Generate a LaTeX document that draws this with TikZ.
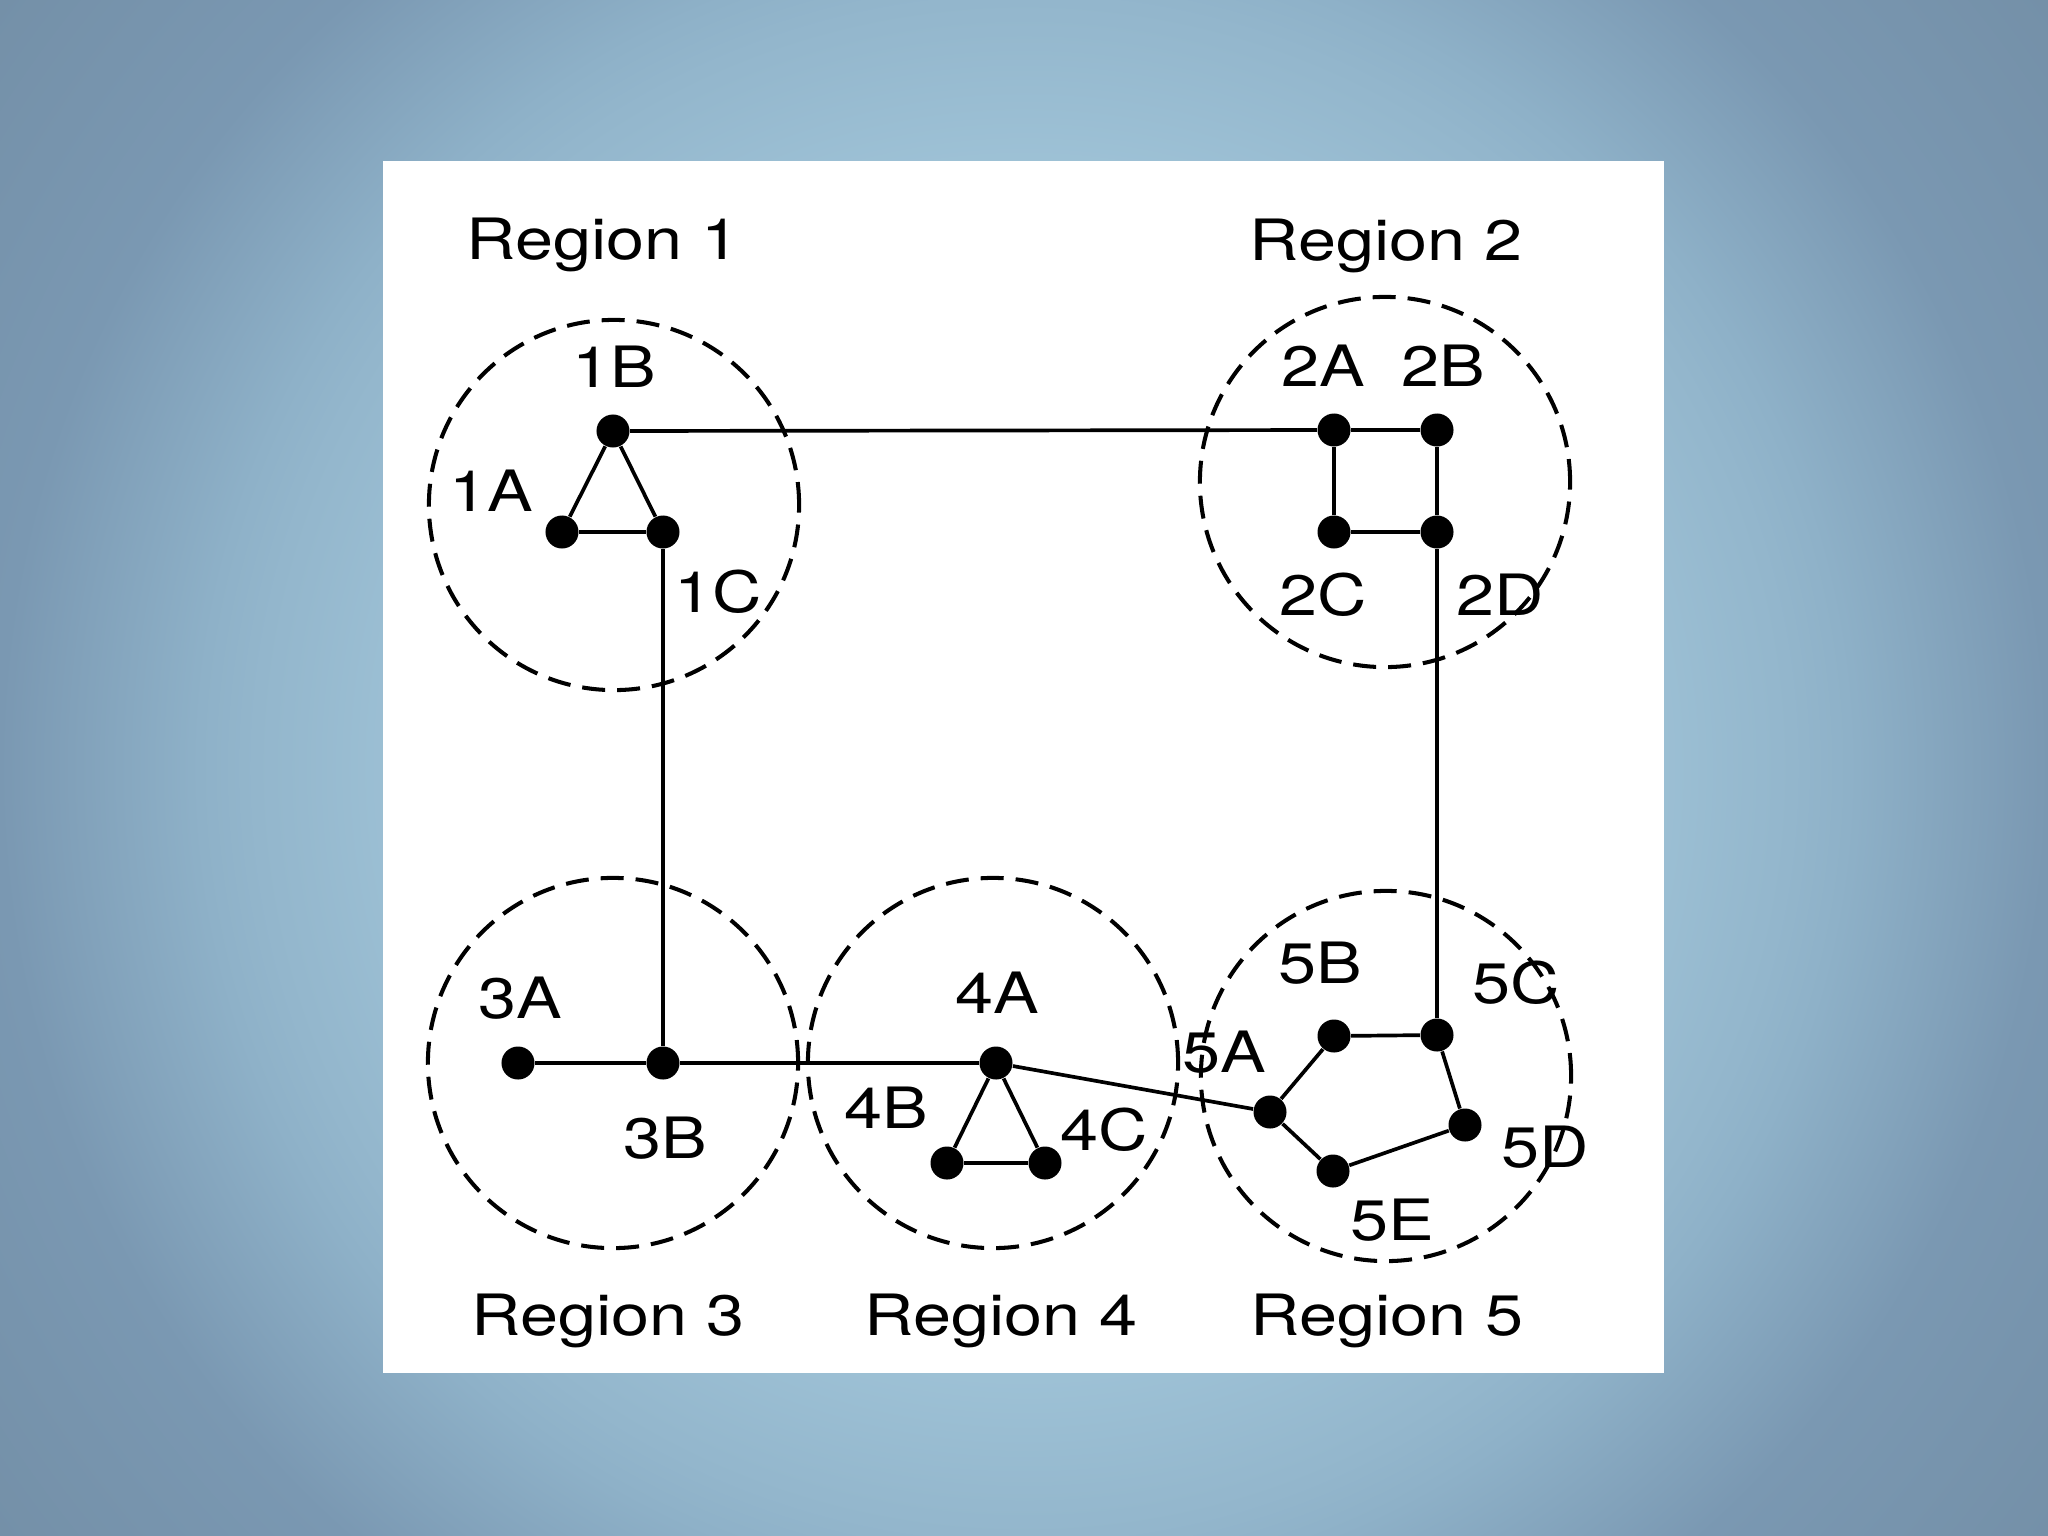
\documentclass[tikz,border=0pt]{standalone}
\usepackage{fontspec}
\setmainfont{TeX Gyre Heros}[FakeStretch=1.2]
\definecolor{bgA}{RGB}{172,210,228}
\definecolor{bgB}{RGB}{160,196,216}
\definecolor{bgC}{RGB}{147,182,204}
\definecolor{bgD}{RGB}{142,177,200}
\definecolor{bgE}{RGB}{122,152,178}
\definecolor{bgF}{RGB}{116,144,168}
\pgfdeclareradialshading{bgshade}{\pgfpoint{0bp}{0bp}}{%
  color(0bp)=(bgA); color(160bp)=(bgB); color(217.7bp)=(bgC); color(233.6bp)=(bgD);
  color(290.3bp)=(bgE); color(362.9bp)=(bgF); color(372bp)=(bgF)}
\begin{document}
\begin{tikzpicture}[x=0.01cm,y=-0.01cm,
  dotnode/.style={circle, fill=black, inner sep=0pt, minimum size=0.33cm},
  lbl/.style={font=\fontsize{16.2}{19}\selectfont, inner sep=0pt},
  reg/.style={font=\fontsize{16.2}{19}\selectfont, inner sep=0pt, anchor=base},
  zone/.style={circle, draw, line width=1.15pt, dash pattern=on 0.23cm off 0.12cm, minimum size=3.7cm, inner sep=0pt},
  link/.style={line width=1.05pt}]
\useasboundingbox (0,0) rectangle (2048,1536);
\begin{scope}
\clip (0,0) rectangle (2048,1536);
\node[inner sep=0pt, outer sep=0pt] (bg) at (1024,768) {\pgfuseshading{bgshade}};
\end{scope}
\fill[white] (383,161) rectangle (1664,1373);

% regions
\node[zone] (C1) at (614,505) {};
\node[zone] (C2) at (1385,482) {};
\node[zone] (C3) at (613,1063) {};
\node[zone] (C4) at (993,1063) {};
\node[zone] (C5) at (1386,1076) {};

% dots
\node[dotnode] (n1A) at (562,532) {};
\node[dotnode] (n1B) at (613,431) {};
\node[dotnode] (n1C) at (663,532) {};
\node[dotnode] (n2A) at (1334,430) {};
\node[dotnode] (n2B) at (1437,430) {};
\node[dotnode] (n2C) at (1334,532) {};
\node[dotnode] (n2D) at (1437,532) {};
\node[dotnode] (n3A) at (518,1063) {};
\node[dotnode] (n3B) at (663,1063) {};
\node[dotnode] (n4A) at (996,1063) {};
\node[dotnode] (n4B) at (947,1163) {};
\node[dotnode] (n4C) at (1045,1163) {};
\node[dotnode] (n5A) at (1270,1112) {};
\node[dotnode] (n5B) at (1334,1036) {};
\node[dotnode] (n5C) at (1437,1035) {};
\node[dotnode] (n5D) at (1465,1125) {};
\node[dotnode] (n5E) at (1333,1171) {};

% links
\draw[link] (n1A) -- (n1B) -- (n1C) -- (n1A);
\draw[link] (n1B) -- (n2A);
\draw[link] (n2A) -- (n2B);
\draw[link] (n2A) -- (n2C);
\draw[link] (n2C) -- (n2D);
\draw[link] (n2B) -- (n2D);
\draw[link] (n2D) -- (n5C);
\draw[link] (n1C) -- (n3B);
\draw[link] (n3A) -- (n3B);
\draw[link] (n3B) -- (n4A);
\draw[link] (n4A) -- (n4B) -- (n4C) -- (n4A);
\draw[link] (n4A) -- (n5A);
\draw[link] (n5A) -- (n5B) -- (n5C) -- (n5D) -- (n5E) -- (n5A);

% labels
\node[lbl] (l1A) at (491,491) {1A};
\node[lbl] (l1B) at (614,367) {1B};
\node[lbl] (l1C) at (718,592) {1C};
\node[lbl] (l2A) at (1323,366) {2A};
\node[lbl] (l2B) at (1443,366) {2B};
\node[lbl] (l2C) at (1323,595) {2C};
\node[lbl] (l2D) at (1500,595) {2D};
\node[lbl] (l3A) at (520,998) {3A};
\node[lbl] (l3B) at (665,1138) {3B};
\node[lbl] (l4A) at (997,993) {4A};
\node[lbl] (l4B) at (886,1108) {4B};
\node[lbl] (l4C) at (1104,1130) {4C};
\node[lbl] (l5A) at (1224,1052) {5A};
\node[lbl] (l5B) at (1320,963) {5B};
\node[lbl] (l5C) at (1516,983) {5C};
\node[lbl] (l5D) at (1545,1147) {5D};
\node[lbl] (l5E) at (1392,1220) {5E};

\node[reg] (r1) at (603,259) {Region 1};
\node[reg] (r2) at (1386,260) {Region 2};
\node[reg] (r3) at (608,1335) {Region 3};
\node[reg] (r4) at (1001,1335) {Region 4};
\node[reg] (r5) at (1387,1335) {Region 5};
\end{tikzpicture}
\end{document}
